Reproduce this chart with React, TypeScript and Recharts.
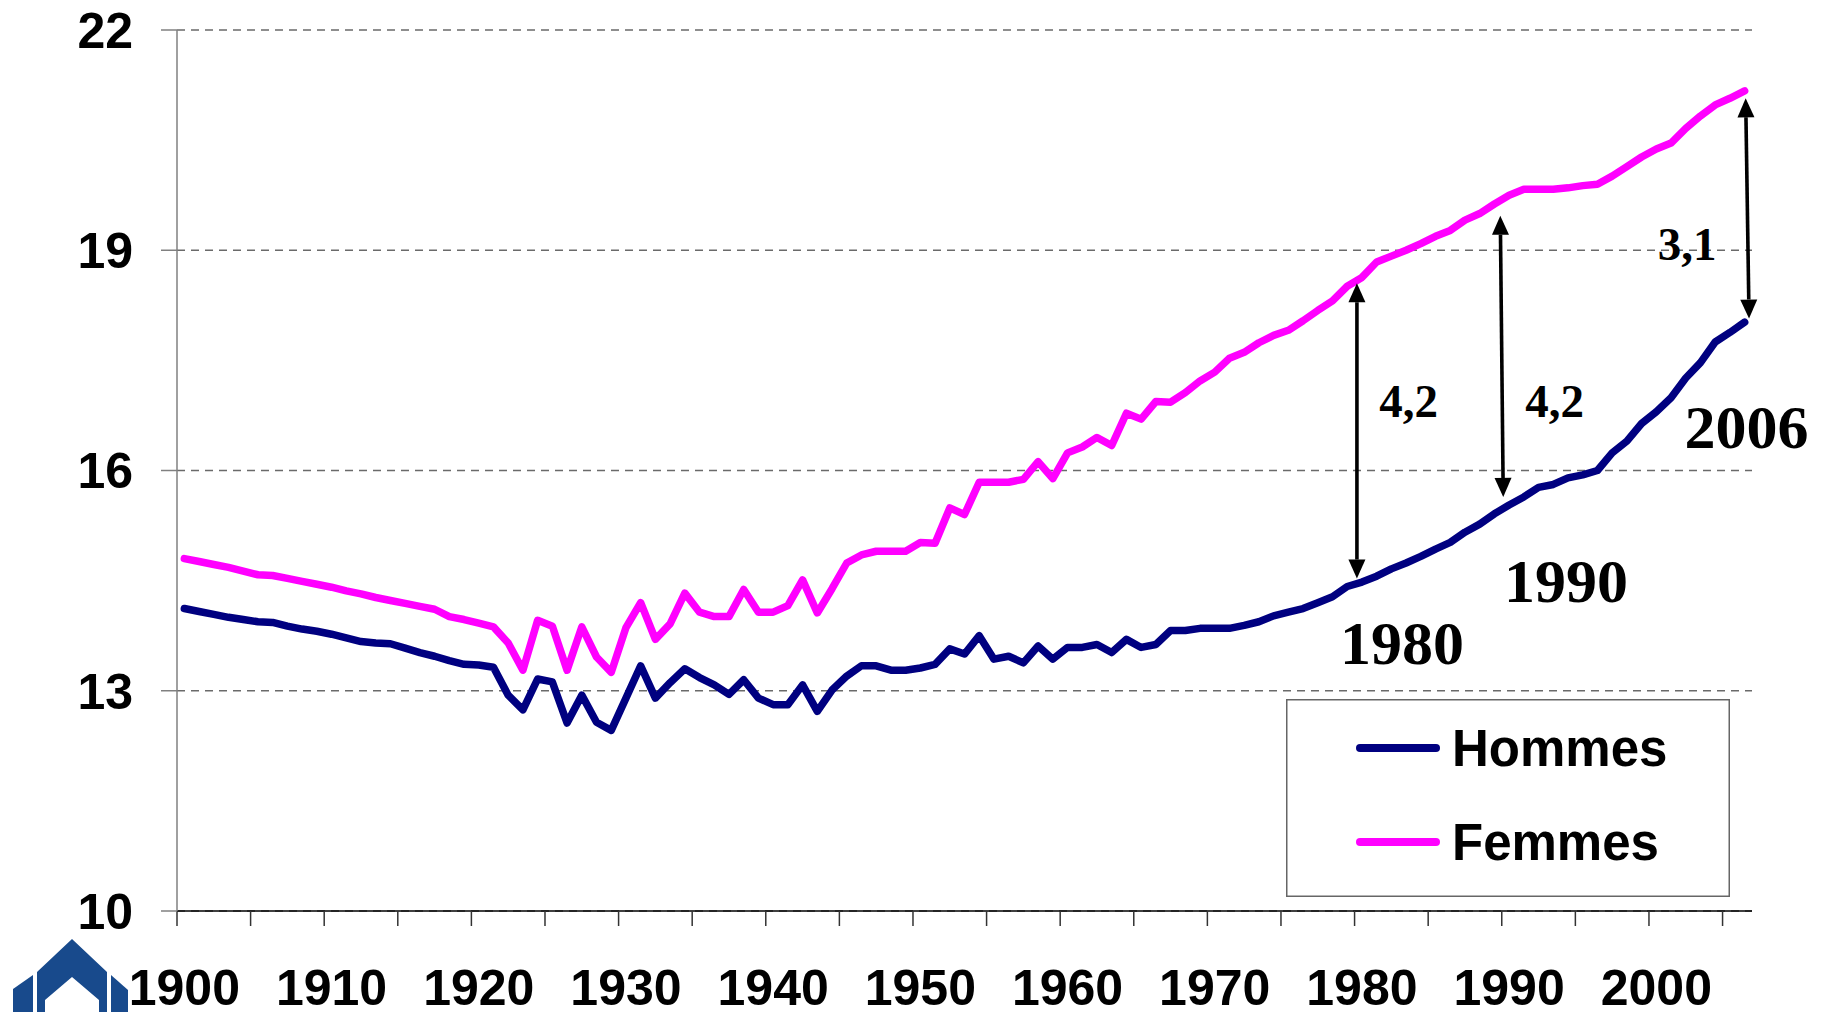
import React from 'react'
import { LineChart, Line, XAxis, YAxis, CartesianGrid, Legend, ReferenceLine, ReferenceDot } from 'recharts'

// espérance de vie à 60 ans, 1900-2006
const FIRST_YEAR = 1900
const hommes = [
    14.12, 14.08, 14.04, 14.0, 13.97, 13.94, 13.93, 13.88, 13.84, 13.81,
    13.77, 13.72, 13.67, 13.65, 13.64, 13.58, 13.52, 13.47, 13.41, 13.36,
    13.35, 13.32, 12.94, 12.74, 13.16, 13.12, 12.56, 12.94, 12.57, 12.46,
    12.9, 13.34, 12.9, 13.11, 13.3, 13.18, 13.08, 12.95, 13.15, 12.9,
    12.81, 12.81, 13.08, 12.72, 13.01, 13.2, 13.34, 13.34, 13.28, 13.28,
    13.31, 13.36, 13.57, 13.5, 13.75, 13.43, 13.47, 13.38, 13.61, 13.43,
    13.59, 13.59, 13.63, 13.52, 13.7, 13.59, 13.63, 13.82, 13.82, 13.85,
    13.85, 13.85, 13.89, 13.94, 14.02, 14.07, 14.12, 14.2, 14.28, 14.42,
    14.48, 14.56, 14.66, 14.74, 14.83, 14.93, 15.02, 15.16, 15.27, 15.41,
    15.53, 15.64, 15.77, 15.81, 15.9, 15.94, 16.0, 16.24, 16.4, 16.64,
    16.8, 16.99, 17.26, 17.47, 17.75, 17.88, 18.02,
]
const femmes = [
    14.8, 14.76, 14.72, 14.68, 14.63, 14.58, 14.57, 14.53, 14.49, 14.45,
    14.41, 14.36, 14.32, 14.27, 14.23, 14.19, 14.15, 14.11, 14.01, 13.97,
    13.92, 13.87, 13.65, 13.28, 13.96, 13.88, 13.28, 13.87, 13.46, 13.25,
    13.86, 14.2, 13.7, 13.91, 14.33, 14.07, 14.01, 14.01, 14.38, 14.07,
    14.07, 14.16, 14.51, 14.06, 14.39, 14.74, 14.85, 14.9, 14.9, 14.9,
    15.02, 15.01, 15.49, 15.4, 15.84, 15.84, 15.84, 15.88, 16.12, 15.89,
    16.24, 16.32, 16.45, 16.34, 16.78, 16.7, 16.94, 16.93, 17.06, 17.22,
    17.34, 17.53, 17.61, 17.74, 17.84, 17.91, 18.04, 18.18, 18.31, 18.51,
    18.63, 18.84, 18.92, 19.0, 19.09, 19.19, 19.27, 19.41, 19.5, 19.63,
    19.75, 19.83, 19.83, 19.83, 19.85, 19.88, 19.9, 20.01, 20.14, 20.27,
    20.38, 20.46, 20.66, 20.83, 20.98, 21.07, 21.17,
]
const seriesOrder = ['Hommes', 'Femmes']

const yTicks = [10, 13, 16, 19, 22]
// tick marks sit between categories, every 5 years
const xTicks = [
    1899.5, 1904.5, 1909.5, 1914.5, 1919.5, 1924.5, 1929.5, 1934.5, 1939.5, 1944.5, 1949.5,
    1954.5, 1959.5, 1964.5, 1969.5, 1974.5, 1979.5, 1984.5, 1989.5, 1994.5, 1999.5, 2004.5,
]

// écarts femmes - hommes
const arrowTop = [
    { x: 1979.66, y: 18.55 },
    { x: 1989.4, y: 19.47 },
    { x: 2006.07, y: 21.07 },
]
const arrowBottom = [
    { x: 1979.66, y: 14.53 },
    { x: 1989.6, y: 15.64 },
    { x: 2006.3, y: 18.07 },
]
const gapLabels = ['4,2', '4,2', '3,1']
const gapPos = [
    { x: 1983.17, y: 16.73 },
    { x: 1993.09, y: 16.73 },
    { x: 2002.1, y: 18.87 },
]
const yearLabels = ['1980', '1990', '2006']
const yearPos = [
    { x: 1982.72, y: 13.36 },
    { x: 1993.87, y: 14.21 },
    { x: 2006.12, y: 16.3 },
]

const data = hommes.map((h, i) => ({ year: FIRST_YEAR + i, hommes: h, femmes: femmes[i] }))

const W = 1826
const H = 1012
const PLOT_LEFT = 177
const PLOT_RIGHT = 1752
const HALF_CAT = (PLOT_RIGHT - PLOT_LEFT) / (2006.5 - 1899.5) / 2

const SANS = "'Liberation Sans', Arial, sans-serif"
const SERIF = "'Liberation Serif', 'Times New Roman', serif"

function XTick(props: any) {
    const { x, y, payload } = props
    const label = Math.round(payload.value + 0.5)
    if (label % 10 !== 0) return <g />
    return (
        <text x={x + HALF_CAT} y={y} dy="0.71em" textAnchor="middle" fontFamily={SANS} fontSize={50} fontWeight="bold" fill="#000">
            {label}
        </text>
    )
}

function DoubleArrow(props: any) {
    const { x1, y1, x2, y2 } = props
    const dx = x2 - x1
    const dy = y2 - y1
    const len = Math.hypot(dx, dy) || 1
    const ux = dx / len
    const uy = dy / len
    const head = 19
    const half = 8.5
    const ax = x1 + ux * head
    const ay = y1 + uy * head
    const bx = x2 - ux * head
    const by = y2 - uy * head
    const px = -uy
    const py = ux
    return (
        <g>
            <line x1={ax} y1={ay} x2={bx} y2={by} stroke="#000" strokeWidth={3.6} />
            <polygon points={`${x1},${y1} ${ax + px * half},${ay + py * half} ${ax - px * half},${ay - py * half}`} fill="#000" />
            <polygon points={`${x2},${y2} ${bx + px * half},${by + py * half} ${bx - px * half},${by - py * half}`} fill="#000" />
        </g>
    )
}

function LegendBox(props: any) {
    const items = [...(props.payload || [])].sort(
        (a: any, b: any) => seriesOrder.indexOf(a.value) - seriesOrder.indexOf(b.value)
    )
    return (
        <svg width={444} height={198} style={{ display: 'block' }}>
            <rect x={0.75} y={0.75} width={442.5} height={196.5} fill="#fff" stroke="#666" strokeWidth={1.5} />
            {items.map((item: any, i: number) => (
                <g key={item.value} transform={`translate(0, ${i * 94})`}>
                    <line x1={74} y1={49} x2={150} y2={49} stroke={item.color} strokeWidth={8} strokeLinecap="round" />
                    <text x={166} y={67} fontFamily={SANS} fontSize={51} fontWeight="bold" fill="#000">
                        {item.value}
                    </text>
                </g>
            ))}
        </svg>
    )
}

function Logo() {
    return (
        <svg width={140} height={82} style={{ position: 'absolute', left: 0, top: 930 }}>
            <polygon points="72,9 107,42 107,82 99,82 99,70 72,47 45,70 45,82 37,82 37,42" fill="#184a8c" />
            <polygon points="13,59 33,45 33,82 13,82" fill="#184a8c" />
            <polygon points="111,45 128,60 128,82 111,82" fill="#184a8c" />
        </svg>
    )
}

export default function App() {
    return (
        <div style={{ position: 'absolute', left: 0, top: 0, width: W, height: H, background: '#fff', overflow: 'hidden' }}>
            <LineChart width={W} height={H} data={data} margin={{ top: 30, right: W - PLOT_RIGHT, bottom: 0, left: 0 }}>
                <CartesianGrid horizontal vertical={false} stroke="#6a6a6a" strokeWidth={1.3} strokeDasharray="8 6" />
                <XAxis
                    dataKey="year"
                    type="number"
                    domain={[1899.5, 2006.5]}
                    ticks={xTicks}
                    interval={0}
                    allowDataOverflow
                    height={101}
                    tickSize={15}
                    tickMargin={43}
                    stroke="#000"
                    axisLine={{ stroke: '#000', strokeWidth: 1.5 }}
                    tickLine={{ stroke: '#333', strokeWidth: 1.5 }}
                    tick={XTick}
                />
                <YAxis
                    type="number"
                    domain={[10, 22]}
                    ticks={yTicks}
                    interval={0}
                    allowDataOverflow
                    width={PLOT_LEFT}
                    tickSize={16}
                    tickMargin={28}
                    axisLine={{ stroke: '#808080', strokeWidth: 1.5 }}
                    tickLine={{ stroke: '#808080', strokeWidth: 1.5 }}
                    tick={{ fill: '#000', fontSize: 50, fontWeight: 'bold', fontFamily: SANS }}
                />
                <Legend
                    layout="vertical"
                    align="center"
                    verticalAlign="middle"
                    wrapperStyle={{ left: 1286, top: 699, width: 444, height: 198 }}
                    content={LegendBox}
                />
                <Line
                    type="linear"
                    dataKey="hommes"
                    name="Hommes"
                    stroke="#000080"
                    strokeWidth={7.5}
                    strokeLinejoin="round"
                    strokeLinecap="round"
                    dot={false}
                    activeDot={false}
                    isAnimationActive={false}
                />
                <Line
                    type="linear"
                    dataKey="femmes"
                    name="Femmes"
                    stroke="#FF00FF"
                    strokeWidth={7.5}
                    strokeLinejoin="round"
                    strokeLinecap="round"
                    dot={false}
                    activeDot={false}
                    isAnimationActive={false}
                />
                {arrowTop.map((top, i) => (
                    <ReferenceLine
                        key={`arrow-${i}`}
                        segment={[top, arrowBottom[i]]}
                        ifOverflow="visible"
                        shape={DoubleArrow}
                    />
                ))}
                {gapLabels.map((txt, i) => (
                    <ReferenceDot
                        key={`gap-${i}`}
                        x={gapPos[i].x}
                        y={gapPos[i].y}
                        ifOverflow="visible"
                        shape={(p: any) => (
                            <text x={p.cx} y={p.cy} textAnchor="middle" fontFamily={SERIF} fontSize={47} fontWeight="bold" fill="#000">
                                {txt}
                            </text>
                        )}
                    />
                ))}
                {yearLabels.map((txt, i) => (
                    <ReferenceDot
                        key={`year-${i}`}
                        x={yearPos[i].x}
                        y={yearPos[i].y}
                        ifOverflow="visible"
                        shape={(p: any) => (
                            <text x={p.cx} y={p.cy} textAnchor="middle" fontFamily={SERIF} fontSize={62} fontWeight="bold" fill="#000">
                                {txt}
                            </text>
                        )}
                    />
                ))}
            </LineChart>
            <Logo />
        </div>
    )
}
